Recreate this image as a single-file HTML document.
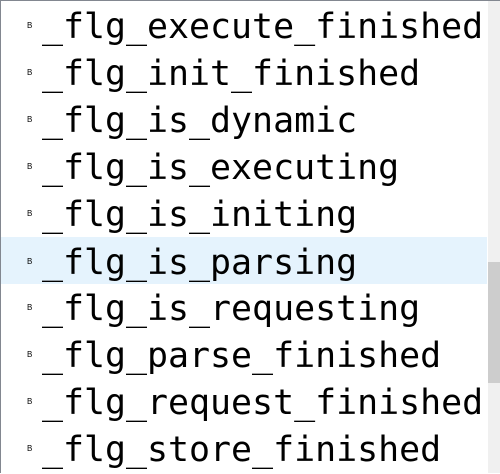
<!DOCTYPE html>
<html><head><style>
body{margin:0;width:500px;height:473px;overflow:hidden;background:#fff;position:relative;font-family:"DejaVu Sans Mono","Liberation Mono",monospace}
.frame{position:absolute;left:0;top:0;width:500px;height:473px;border-left:1px solid #828790;border-top:1px solid #828790;box-sizing:border-box}
.row{position:absolute;left:0;width:487px;height:47px}
.hl{background:#e5f3fd}
.b{position:absolute;left:27px;top:20px;font:8px "Liberation Sans",sans-serif;color:#000}
.t{position:absolute;left:42px;top:3px;font-size:34.9px;line-height:47px;color:#000;white-space:nowrap}
.sb{position:absolute;left:488px;top:0;width:12px;height:473px;background:#f0f0f0}
.th{position:absolute;left:488px;top:262px;width:12px;height:121px;background:#cdcdcd}
</style></head><body>
<div class="row" style="top:1px"><span class="b">B</span><span class="t">_flg_execute_finished</span></div>
<div class="row" style="top:48px"><span class="b">B</span><span class="t">_flg_init_finished</span></div>
<div class="row" style="top:95px"><span class="b">B</span><span class="t">_flg_is_dynamic</span></div>
<div class="row" style="top:142px"><span class="b">B</span><span class="t">_flg_is_executing</span></div>
<div class="row" style="top:189px"><span class="b">B</span><span class="t">_flg_is_initing</span></div>
<div class="row hl" style="top:237px"><span class="b">B</span><span class="t">_flg_is_parsing</span></div>
<div class="row" style="top:283px"><span class="b">B</span><span class="t">_flg_is_requesting</span></div>
<div class="row" style="top:330px"><span class="b">B</span><span class="t">_flg_parse_finished</span></div>
<div class="row" style="top:377px"><span class="b">B</span><span class="t">_flg_request_finished</span></div>
<div class="row" style="top:424px"><span class="b">B</span><span class="t">_flg_store_finished</span></div>
<div class="sb"></div><div class="th"></div>
<div class="frame"></div>
</body></html>
